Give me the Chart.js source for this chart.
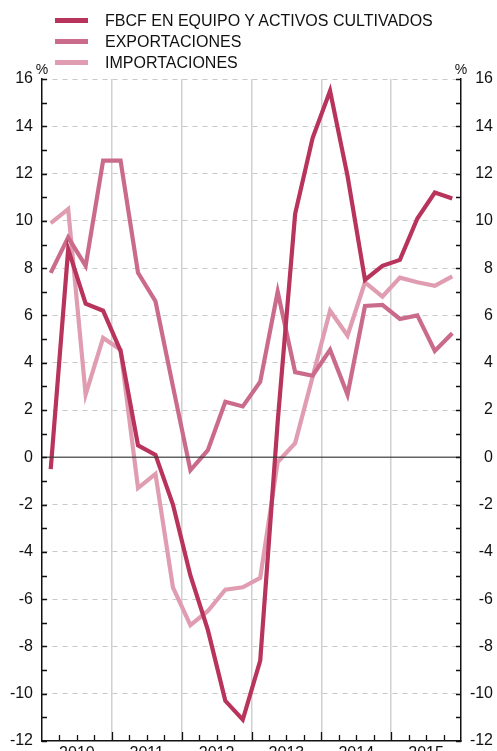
<!DOCTYPE html>
<html>
<head>
<meta charset="utf-8">
<script src="https://cdn.jsdelivr.net/npm/chart.js@4.4.1/dist/chart.umd.min.js"></script>
<style>
  html, body { margin: 0; padding: 0; background: #fff; overflow: hidden; }
  #wrap { position: relative; width: 497px; height: 751px; overflow: hidden; }
  #legend { position: absolute; left: 55px; top: 10px; font-family: "Liberation Sans", Arial, sans-serif; font-size: 16px; color: #111; }
  .item { height: 21px; display: flex; align-items: center; }
  .sw { display: inline-block; width: 33px; height: 5px; margin-right: 17px; }
</style>
</head>
<body>
<div id="wrap">
  <canvas id="chart" width="497" height="751"></canvas>
  <div id="legend"></div>
</div>
<script>
const years = ['2010', '2011', '2012', '2013', '2014', '2015'];
const quarters = ['2010T1','2010T2','2010T3','2010T4','2011T1','2011T2','2011T3','2011T4',
                  '2012T1','2012T2','2012T3','2012T4','2013T1','2013T2','2013T3','2013T4',
                  '2014T1','2014T2','2014T3','2014T4','2015T1','2015T2','2015T3','2015T4'];

const fbcf = [-0.5, 8.8, 6.5, 6.2, 4.5, 0.5, 0.1, -2.0,
              -5.0, -7.3, -10.3, -11.1, -8.6, 1.5, 10.3, 13.5,
              15.5, 11.9, 7.5, 8.1, 8.35, 10.1, 11.2, 10.95];
const exportaciones = [7.8, 9.3, 8.1, 12.55, 12.55, 7.8, 6.6, 3.0,
                       -0.55, 0.3, 2.35, 2.15, 3.2, 7.0, 3.6, 3.45,
                       4.55, 2.65, 6.4, 6.45, 5.85, 6.0, 4.5, 5.25];
const importaciones = [9.9, 10.5, 2.65, 5.05, 4.55, -1.3, -0.7, -5.5,
                       -7.1, -6.5, -5.6, -5.5, -5.1, -0.2, 0.6, 3.4,
                       6.2, 5.15, 7.4, 6.8, 7.6, 7.4, 7.25, 7.65];

const names = ['FBCF EN EQUIPO Y ACTIVOS CULTIVADOS', 'EXPORTACIONES', 'IMPORTACIONES'];
const colors = ['#b8345c', '#cb6b8b', '#e09db1'];
const series = [fbcf, exportaciones, importaciones];

const yMin = -12, yMax = 16;
const font = { family: '"Liberation Sans", Arial, sans-serif', size: 16 };

// html legend, one item per row
const legend = document.getElementById('legend');
names.forEach(function(n, i) {
  const row = document.createElement('div');
  row.className = 'item';
  row.innerHTML = '<span class="sw" style="background:' + colors[i] + '"></span><span>' + n + '</span>';
  legend.appendChild(row);
});

const extras = {
  id: 'extras',
  afterDatasetsDraw(chart) {
    const c = chart.ctx, a = chart.chartArea, y = chart.scales.y;
    // zero line
    c.save();
    c.strokeStyle = 'rgba(60,60,60,0.8)';
    c.lineWidth = 1.5;
    c.beginPath();
    c.moveTo(a.left, y.getPixelForValue(0));
    c.lineTo(a.right, y.getPixelForValue(0));
    c.stroke();
    c.restore();
  },
  afterDraw(chart) {
    const c = chart.ctx, a = chart.chartArea, x = chart.scales.x, y = chart.scales.y;
    c.save();
    c.strokeStyle = '#111';
    c.lineWidth = 1.3;
    c.beginPath();
    for (let v = yMin; v <= yMax; v++) {
      const py = Math.round(y.getPixelForValue(v)) + 0.5;
      c.moveTo(a.left, py); c.lineTo(a.left + 5, py);
      c.moveTo(a.right, py); c.lineTo(a.right - 5, py);
    }
    for (let q = 1; q < quarters.length; q++) {
      const px = Math.round(x.getPixelForValue(q)) + 0.5;
      const len = q % 4 === 0 ? 9 : 6;
      c.moveTo(px, a.bottom); c.lineTo(px, a.bottom - len);
    }
    c.stroke();
    c.fillStyle = '#111';
    c.font = '14px "Liberation Sans", Arial, sans-serif';
    c.textAlign = 'center';
    c.textBaseline = 'bottom';
    c.fillText('%', a.left, a.top - 2);
    c.fillText('%', a.right, a.top - 2);
    c.restore();
  }
};

function noPad(s) { s.paddingTop = 0; s.paddingBottom = 0; }

new Chart(document.getElementById('chart'), {
  type: 'line',
  data: {
    datasets: series.map(function(s, i) {
      return {
        label: names[i],
        data: s.map(function(v, k) { return { x: k + 0.5, y: v }; }),
        borderColor: colors[i],
        borderWidth: 4.2,
        borderJoinStyle: 'miter',
        pointRadius: 0,
        tension: 0,
        fill: false
      };
    })
  },
  options: {
    responsive: false,
    animation: false,
    layout: { padding: { top: 79, left: 0, right: 4, bottom: 0 } },
    plugins: { legend: { display: false }, tooltip: { enabled: false } },
    scales: {
      x: {
        type: 'linear',
        min: 0,
        max: quarters.length,
        afterFit: function(s) { s.height = 10; },
        afterBuildTicks: function(s) {
          s.ticks = quarters.map(function(q, k) { return { value: k }; }).concat([{ value: quarters.length }]);
        },
        ticks: {
          autoSkip: false,
          maxRotation: 0,
          padding: 3,
          color: '#111',
          font: font,
          callback: function(v) { return v % 4 === 2 ? years[(v - 2) / 4] : ''; }
        },
        grid: {
          drawTicks: false,
          lineWidth: 1.5,
          color: function(ctx) {
            const v = ctx.tick && ctx.tick.value;
            return (v % 4 === 0 && v > 0 && v < quarters.length) ? '#d0d0d0' : 'rgba(0,0,0,0)';
          }
        },
        border: { color: '#111', width: 1.5 }
      },
      y: {
        position: 'left',
        min: yMin,
        max: yMax,
        afterFit: function(s) { s.width = 42; noPad(s); },
        ticks: {
          stepSize: 1,
          autoSkip: false,
          padding: 9,
          color: '#111',
          font: font,
          callback: function(v) { return v % 2 === 0 ? String(v) : ''; }
        },
        grid: {
          drawTicks: false,
          lineWidth: 1,
          color: function(ctx) {
            const v = ctx.tick && ctx.tick.value;
            return (v % 2 === 0 && v !== yMin && v !== 0) ? '#c8c8c8' : 'rgba(0,0,0,0)';
          }
        },
        border: { color: '#111', width: 1.5, dash: [5, 5] }
      },
      y2: {
        position: 'right',
        min: yMin,
        max: yMax,
        afterFit: function(s) { s.width = 32; noPad(s); },
        ticks: {
          stepSize: 1,
          autoSkip: false,
          padding: 0,
          crossAlign: 'far',
          color: '#111',
          font: font,
          callback: function(v) { return v % 2 === 0 ? String(v) : ''; }
        },
        grid: { display: false, drawTicks: false },
        border: { color: '#111', width: 1.5 }
      }
    }
  },
  plugins: [extras]
});
</script>
</body>
</html>
